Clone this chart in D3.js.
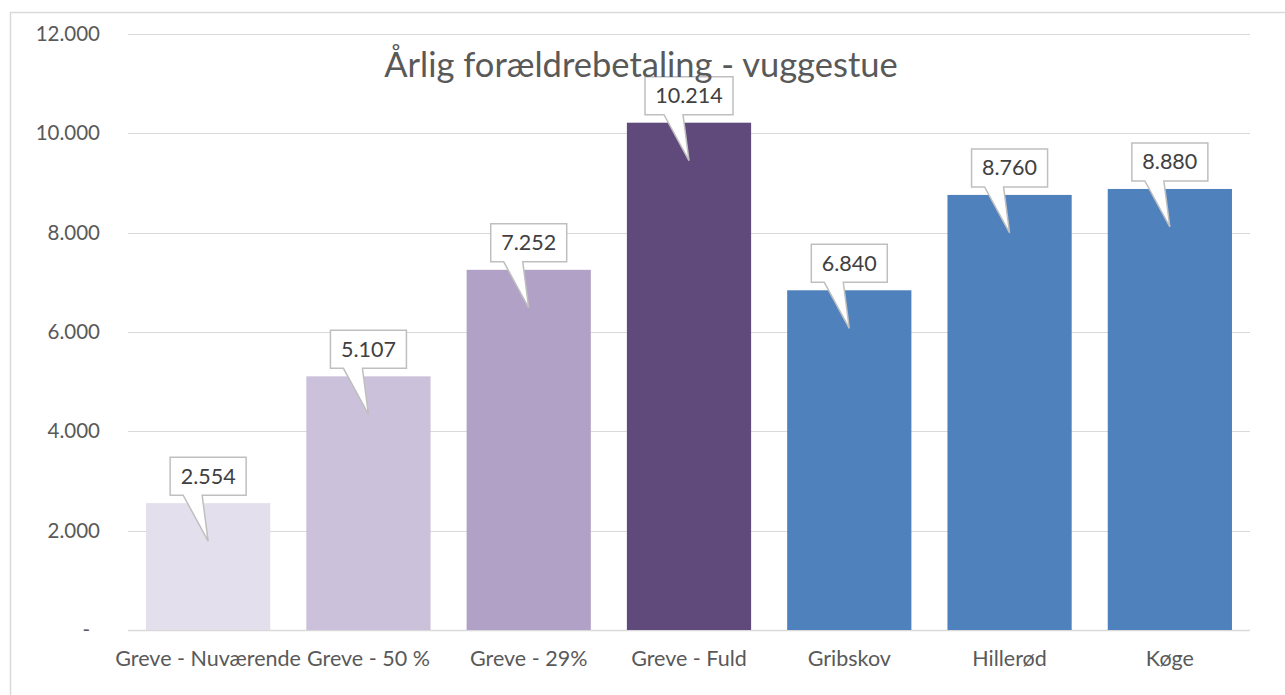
<!DOCTYPE html>
<html>
<head>
<meta charset="utf-8">
<script src="https://cdn.jsdelivr.net/npm/d3@7"></script>
<style>
  body { margin: 0; background: #fff; }
  svg text { font-family: Lato, "Open Sans", sans-serif; }
</style>
</head>
<body>
<div id="chart"></div>
<script>
// Data
const categories = ["Greve - Nuværende", "Greve - 50 %", "Greve - 29%", "Greve - Fuld", "Gribskov", "Hillerød", "Køge"];
const values = [2554, 5107, 7252, 10214, 6840, 8760, 8880];
const barColors = ["#e4dfec", "#ccc1da", "#b2a1c7", "#604a7b", "#4f81bd", "#4f81bd", "#4f81bd"];
const yTicks = [0, 2000, 4000, 6000, 8000, 10000, 12000];
const chartTitle = "Årlig forældrebetaling - vuggestue";

const W = 1285, H = 695;
const margin = {top: 34, right: 35, bottom: 65, left: 128};
const width = W - margin.left - margin.right;
const height = H - margin.top - margin.bottom;

const svg = d3.select("#chart")
  .append("svg")
  .attr("width", W)
  .attr("height", H);

// outer chart border
svg.append("rect")
  .attr("x", 10.5)
  .attr("y", 12.5)
  .attr("width", W)
  .attr("height", H)
  .attr("fill", "none")
  .attr("stroke", "#d9d9d9")
  .attr("stroke-width", 1.5);

const g = svg.append("g")
  .attr("transform", `translate(${margin.left},${margin.top})`);

const x = d3.scaleBand()
  .domain(categories)
  .range([0, width])
  .paddingInner(0.225)
  .paddingOuter(0.1125);

const y = d3.scaleLinear()
  .domain([0, 12000])
  .range([height, 0]);

// thousands separator "." (Danish), zero shown as "-"
const fmt = v => v === 0 ? "-" : d3.format(",")(v).replace(/,/g, ".");

// gridlines
g.selectAll(".grid")
  .data(yTicks)
  .enter()
  .append("line")
  .attr("x1", 0)
  .attr("x2", width)
  .attr("y1", d => Math.round(y(d)) + 0.5)
  .attr("y2", d => Math.round(y(d)) + 0.5)
  .attr("stroke", "#d9d9d9")
  .attr("stroke-width", d => d === 0 ? 1.5 : 1);

// y axis labels
const yAxis = g.append("g")
  .call(d3.axisLeft(y).tickValues(yTicks).tickFormat(fmt).tickSize(0).tickPadding(28));
yAxis.select(".domain").remove();
yAxis.selectAll("text")
  .attr("fill", "#595959")
  .attr("dx", d => d === 0 ? -10 : 0)
  .style("font-size", "20.5px");

// x axis labels
const xAxis = g.append("g")
  .attr("transform", `translate(0,${height})`)
  .call(d3.axisBottom(x).tickSize(0).tickPadding(21));
xAxis.select(".domain").remove();
xAxis.selectAll("text")
  .attr("fill", "#595959")
  .style("font-size", "21.5px");

// bars
g.selectAll(".bar")
  .data(values)
  .enter()
  .append("rect")
  .attr("x", (d, i) => x(categories[i]))
  .attr("y", d => y(d))
  .attr("width", x.bandwidth())
  .attr("height", d => height - y(d))
  .attr("fill", (d, i) => barColors[i]);

// callout labels
const boxH = 38;
values.forEach((v, i) => {
  const cx = x(categories[i]) + x.bandwidth() / 2;
  const top = y(v);
  const label = fmt(v);
  const boxW = label.length > 5 ? 88 : 76;
  const bTop = top - 8 - boxH;
  const bBot = top - 8;
  const l = cx - boxW / 2, r = cx + boxW / 2;
  const path = d3.path();
  path.moveTo(l, bTop);
  path.lineTo(r, bTop);
  path.lineTo(r, bBot);
  path.lineTo(cx - 6, bBot);
  path.lineTo(cx, top + 38);
  path.lineTo(cx - 25, bBot);
  path.lineTo(l, bBot);
  path.closePath();
  g.append("path")
    .attr("d", path.toString())
    .attr("fill", "#fff")
    .attr("stroke", "#bfbfbf")
    .attr("stroke-width", 1.5);
  g.append("text")
    .attr("x", cx)
    .attr("y", bTop + boxH / 2)
    .attr("dy", "0.35em")
    .attr("text-anchor", "middle")
    .attr("fill", "#404040")
    .style("font-size", "21.5px")
    .text(label);
});

// title
svg.append("text")
  .attr("x", 641)
  .attr("y", 77)
  .attr("text-anchor", "middle")
  .attr("fill", "#595959")
  .style("font-size", "34.5px")
  .text(chartTitle);
</script>
</body>
</html>
